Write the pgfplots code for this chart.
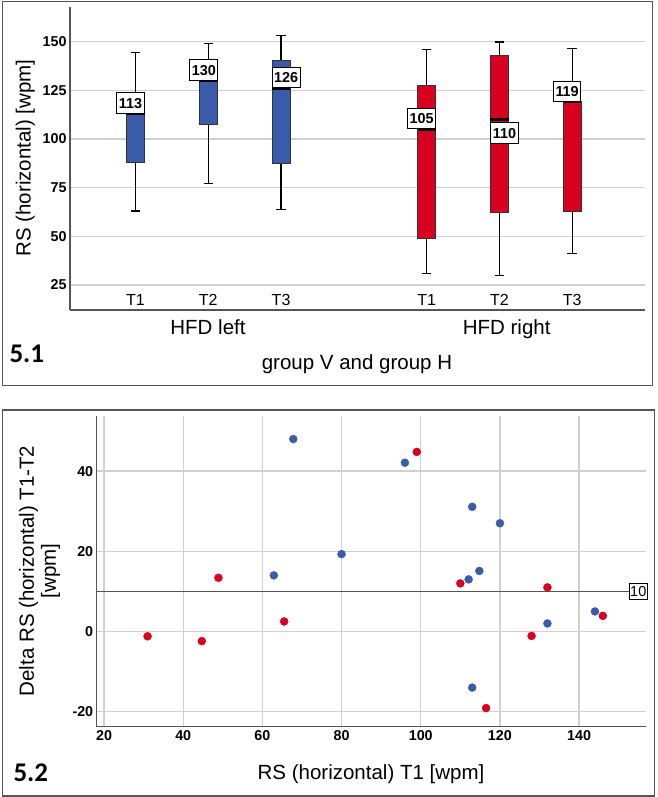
\documentclass[border=0pt]{standalone}
\usepackage{fontspec}
\setmainfont{Liberation Sans}
\newfontfamily\calib{Carlito}
\usepackage{pgfplots}
\pgfplotsset{compat=1.18}
\usepgfplotslibrary{statistics}
\definecolor{bblue}{HTML}{3A5BAA}
\definecolor{rred}{HTML}{D7001F}
\definecolor{gridc}{HTML}{D0D0D0}
\definecolor{axc}{HTML}{555555}
\newcommand{\bigf}{\fontsize{20.5}{24}\selectfont}
\newcommand{\tickf}{\fontsize{14.3}{16}\selectfont\bfseries}
\tikzset{labl/.style={draw=black, fill=white, line width=0.9pt, font=\fontsize{14.4}{16}\selectfont\bfseries, inner xsep=2pt, inner ysep=5pt, text height=10.3pt, text depth=0pt}}
\begin{document}
\begin{tikzpicture}[x=1pt,y=1pt]
\useasboundingbox (0,0) rectangle (657,-797);
% frames
\draw[axc, line width=1.5pt] (2.7,-1.5) rectangle (652.7,-385.7);
\draw[axc, line width=1.5pt] (2.7,-410) rectangle (654.3,-796);

% ---------------- top panel: box plots
\begin{axis}[
  at={(70pt,-310pt)}, anchor=south west,
  scale only axis, width=575pt, height=303pt,
  xmin=0.1, xmax=8, ymin=12.16, ymax=167.8,
  axis lines*=left,
  axis line style={color=axc, line width=1.5pt},
  major tick length=0pt,
  ytick={25,50,75,100,125,150},
  xtick={1,2,3,5,6,7},
  xticklabels={T1,T2,T3,T1,T2,T3},
  xticklabel style={font=\fontsize{16}{18}\selectfont, anchor=center, yshift=10.3pt},
  yticklabel style={font=\tickf},
  /pgf/number format/assume math mode=true,
  ymajorgrids, grid style={color=gridc, line width=1.3pt},
  clip=false,
  boxplot/draw direction=y,
  boxplot/box extend=0.25,
  boxplot/whisker extend=0.13,
  boxplot/every whisker/.style={black, line width=1.3pt},
  boxplot/every median/.style={black, line width=2.5pt},
]
\addplot[fill=bblue, draw=black!80, line width=0.8pt, boxplot prepared={draw position=1, lower whisker=63, lower quartile=87.8, median=113, upper quartile=113.3, upper whisker=144.3}] coordinates {};
\addplot[fill=bblue, draw=black!80, line width=0.8pt, boxplot prepared={draw position=2, lower whisker=77.2, lower quartile=107.7, median=130, upper quartile=130.3, upper whisker=149.1}] coordinates {};
\addplot[fill=bblue, draw=black!80, line width=0.8pt, boxplot prepared={draw position=3, lower whisker=63.9, lower quartile=87.5, median=126, upper quartile=140.6, upper whisker=153}] coordinates {};
\addplot[fill=rred, draw=black!80, line width=0.8pt, boxplot prepared={draw position=5, lower whisker=31, lower quartile=49, median=105, upper quartile=127.7, upper whisker=146.1}] coordinates {};
\addplot[fill=rred, draw=black!80, line width=0.8pt, boxplot prepared={draw position=6, lower whisker=29.8, lower quartile=62.3, median=110, upper quartile=143.1, upper whisker=149.8}] coordinates {};
\addplot[fill=rred, draw=black!80, line width=0.8pt, boxplot prepared={draw position=7, lower whisker=41.3, lower quartile=63, median=119, upper quartile=119.2, upper whisker=146.6}] coordinates {};
\node[labl, anchor=south] at (axis cs:0.93,113) {113};
\node[labl, anchor=south] at (axis cs:1.94,130) {130};
\node[labl, anchor=south] at (axis cs:3.07,126) {126};
\node[labl, anchor=south] at (axis cs:4.93,105) {105};
\node[labl, anchor=north] at (axis cs:6.07,108.6) {110};
\node[labl, anchor=south] at (axis cs:6.93,119) {119};
\end{axis}
\node[anchor=base, font=\bigf] at (208,-334.3) {HFD left};
\node[anchor=base, font=\bigf] at (506.7,-334) {HFD right};
\node[anchor=base, font=\bigf] at (357,-369) {group V and group H};
\node[anchor=base west, inner sep=0pt, font=\calib\fontsize{27}{30}\selectfont\bfseries] at (9.3,-362.3) {5.1};
\node[anchor=base, rotate=90, font=\bigf] at (30.7,-158) {RS (horizontal) [wpm]};

% ---------------- bottom panel: scatter
\begin{axis}[
  at={(96.7pt,-726.7pt)}, anchor=south west,
  scale only axis, width=549.3pt, height=310.7pt,
  xmin=18.15, xmax=156.9, ymin=-23.75, ymax=53.75,
  axis lines*=left,
  axis line style={color=axc, line width=1.5pt},
  major tick length=0pt,
  xtick={20,40,...,140},
  ytick={-20,0,20,40},
  ticklabel style={font=\tickf},
  /pgf/number format/assume math mode=true,
  grid=major, grid style={color=gridc, line width=1.3pt},
  clip=false,
]
\addplot[color=axc, line width=1.5pt] coordinates {(18.15,10) (152.6,10)};
\node[anchor=west, draw=black, fill=white, line width=0.9pt, inner xsep=0.8pt, inner ysep=3pt, font=\fontsize{14.5}{16}\selectfont, text height=10.4pt, text depth=0pt] at (axis cs:152.6,10) {10};
\addplot[only marks, mark=*, mark size=4pt, mark options={draw=bblue, fill=bblue}] coordinates {
(67.8,48) (62.9,14) (96,42.1) (113,31.1) (120,27) (80,19.3) (114.8,15.1) (112.1,13) (132,2) (144,5) (113,-14)};
\addplot[only marks, mark=*, mark size=4pt, mark options={draw=rred, fill=rred}] coordinates {
(31,-1.2) (44.7,-2.4) (48.9,13.4) (65.5,2.5) (99,44.8) (110,12) (132,11) (146,3.9) (128,-1.1) (116.5,-19.1)};
\end{axis}
\node[anchor=base, font=\bigf] at (371,-779) {RS (horizontal) T1 [wpm]};
\node[anchor=center, rotate=90, align=center, font=\bigf] at (39.5,-571) {Delta RS (horizontal) T1-T2\\[-2pt] [wpm]};
\node[anchor=base west, inner sep=0pt, font=\calib\fontsize{27}{30}\selectfont\bfseries] at (13.3,-781.5) {5.2};
\end{tikzpicture}
\end{document}
